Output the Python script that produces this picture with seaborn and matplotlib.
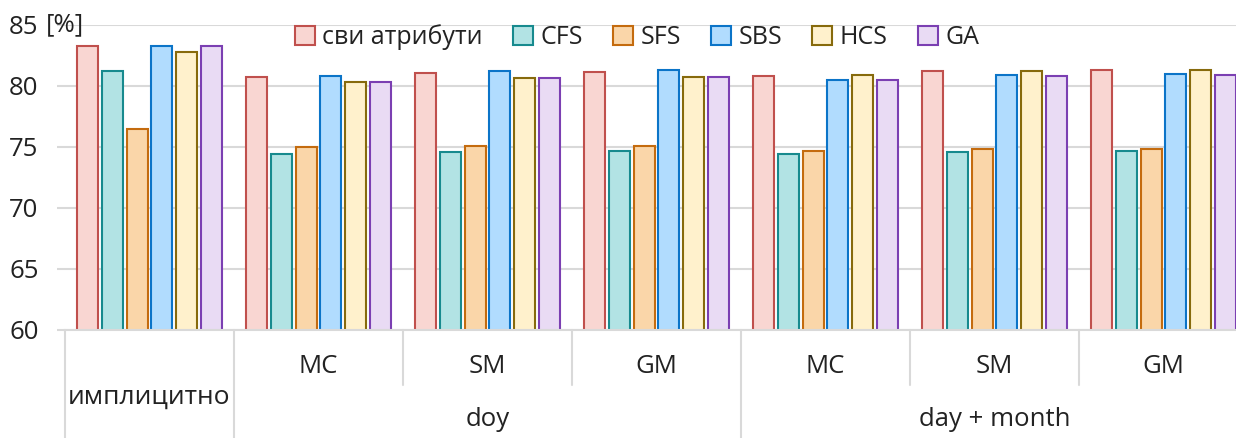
import matplotlib
matplotlib.use("Agg")
from matplotlib import pyplot as plt
from matplotlib.patches import Patch
import matplotlib.transforms as mtransforms
import seaborn as sns
import pandas as pd

# groups along the x axis
groups = ['имплицитно', 'doy MC', 'doy SM', 'doy GM', 'dm MC', 'dm SM', 'dm GM']
group_ticks = ['', 'MC', 'SM', 'GM', 'MC', 'SM', 'GM']
methods = ['сви атрибути', 'CFS', 'SFS', 'SBS', 'HCS', 'GA']

# accuracy [%], one list per method
svi = [83.3, 80.7, 81.1, 81.15, 80.8, 81.2, 81.3]
cfs = [81.2, 74.45, 74.6, 74.65, 74.45, 74.6, 74.65]
sfs = [76.5, 75.0, 75.05, 75.05, 74.7, 74.85, 74.85]
sbs = [83.3, 80.8, 81.2, 81.3, 80.5, 80.9, 80.95]
hcs = [82.8, 80.35, 80.65, 80.7, 80.9, 81.25, 81.3]
ga = [83.25, 80.35, 80.65, 80.75, 80.5, 80.85, 80.9]

fills = ['#F9D6D2', '#B2E3E4', '#FAD6A9', '#B1DCFE', '#FFF1CC', '#E9DBF4']
edges = ['#C0504D', '#178A8E', '#C46B0E', '#0B74C8', '#876A0C', '#7B3FB2']

dict1 = {'group': [], 'method': [], 'value': []}
for m, vals in zip(methods, [svi, cfs, sfs, sbs, hcs, ga]):
    for g, v in zip(groups, vals):
        dict1['group'].append(g)
        dict1['method'].append(m)
        dict1['value'].append(v)
df = pd.DataFrame(data=dict1)

sns.set_style("white")
plt.rcParams['font.family'] = ['Open Sans', 'DejaVu Sans']
plt.rcParams['text.color'] = '#222222'

fig = plt.figure(figsize=(12.36, 4.38), dpi=100)
ax = fig.add_axes([65 / 1236, 108 / 438, 1183 / 1236, 305 / 438])

sns.barplot(data=df, x='group', y='value', hue='method', order=groups,
            hue_order=methods, palette=fills, saturation=1, width=0.876,
            gap=0.15, legend=False, ax=ax)

for cont, ec in zip(ax.containers, edges):
    for bar in cont:
        bar.set_edgecolor(ec)
        bar.set_linewidth(1.5)

ax.set_ylim(60, 85)
ax.set_xlim(-0.5, 6.5)
ax.set_yticks([60, 65, 70, 75, 80, 85])
ax.set_yticklabels(['60', '65', '70', '75', '80', '85'])
ax.yaxis.grid(True, color='#D9D9D9', linewidth=1.5)
ax.set_axisbelow(True)
ax.tick_params(axis='y', length=6, color='#D9D9D9', width=1.5, pad=13,
               labelsize=18.5, labelcolor='#222222', left=True)
ax.set_xticks(range(len(groups)))
ax.set_xticklabels(group_ticks)
ax.tick_params(axis='x', length=0, pad=17, labelsize=18.5, labelcolor='#222222')
ax.set_xlabel('')
ax.set_ylabel('')
for s in ['top', 'right', 'left']:
    ax.spines[s].set_visible(False)
ax.spines['bottom'].set_color('#D9D9D9')
ax.spines['bottom'].set_linewidth(1.5)

ax.text(46 / 1236, 1.0, '[%]', transform=mtransforms.blended_transform_factory(
    fig.transFigure, ax.transAxes), fontsize=18.5, va='center', ha='left')

# separators of the two-level category axis
trans = mtransforms.blended_transform_factory(ax.transData, ax.transAxes)
for x, low in [(-0.5, -0.36), (0.5, -0.36), (1.5, -0.18), (2.5, -0.18),
               (3.5, -0.36), (4.5, -0.18), (5.5, -0.18)]:
    ax.plot([x, x], [0, low], color='#D9D9D9', linewidth=1.5,
            transform=trans, clip_on=False)

ax.text(0, -0.22, 'имплицитно', transform=trans, fontsize=19,
        ha='center', va='center')
ax.text(2, -0.295, 'doy', transform=trans, fontsize=18.5,
        ha='center', va='center')
ax.text(5, -0.295, 'day + month', transform=trans, fontsize=18.5,
        ha='center', va='center')

handles = [Patch(facecolor=f, edgecolor=e, linewidth=1.5) for f, e in zip(fills, edges)]
fig.legend(handles, methods, loc='center', bbox_to_anchor=(637 / 1236, 0.915),
           ncol=6, frameon=False, fontsize=18, handlelength=0.8,
           handleheight=0.8, handletextpad=0.3, columnspacing=1.2,
           borderaxespad=0)

fig.savefig('out.png', dpi=100)
